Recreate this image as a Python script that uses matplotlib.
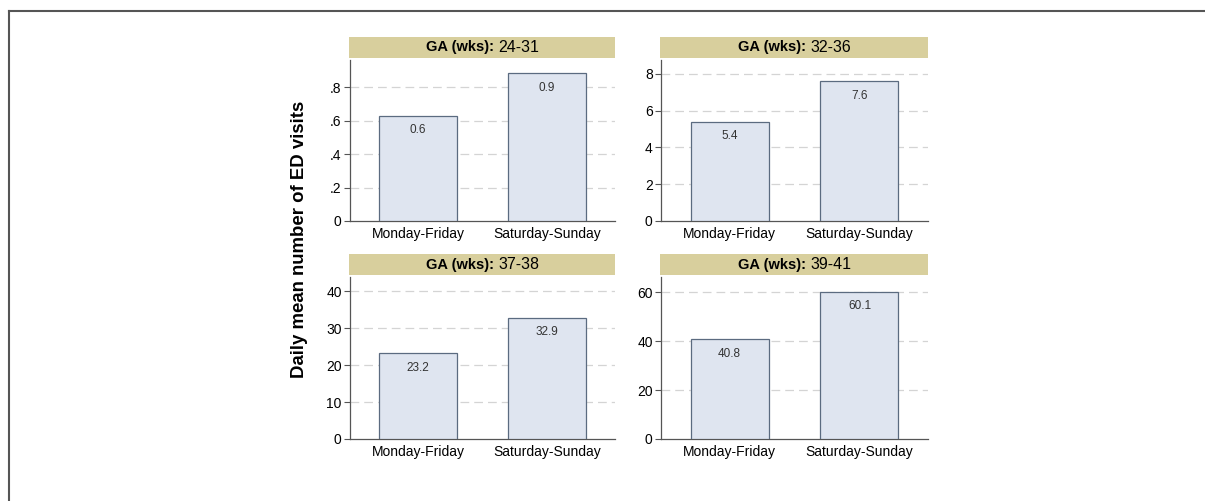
import matplotlib
matplotlib.use("Agg")
from matplotlib import pyplot as plt
from matplotlib.lines import Line2D
from matplotlib.patches import Rectangle

# data
categories = ["Monday-Friday", "Saturday-Sunday"]
groups = ["24-31", "32-36", "37-38", "39-41"]
heights = [[0.63, 0.884], [5.38, 7.6], [23.2, 32.9], [40.8, 60.1]]
bar_labels = [["0.6", "0.9"], ["5.4", "7.6"], ["23.2", "32.9"], ["40.8", "60.1"]]
y_ticks = [[0, 0.2, 0.4, 0.6, 0.8], [0, 2, 4, 6, 8], [0, 10, 20, 30, 40],
           [0, 20, 40, 60]]
y_ticklabels = [["0", ".2", ".4", ".6", ".8"], ["0", "2", "4", "6", "8"],
                ["0", "10", "20", "30", "40"], ["0", "20", "40", "60"]]
y_max = [0.964, 8.76, 43.9, 66.3]

plt.rcParams["font.family"] = ["Liberation Sans", "DejaVu Sans"]

W, H = 1205, 501
fig = plt.figure(figsize=(W / 100, H / 100), dpi=100)

# panel boxes in pixels: left, top, right, bottom
boxes = [(350, 60, 615, 221), (661, 60, 928, 221),
         (350, 277, 615, 439), (661, 277, 928, 439)]

strip_col = "#d8cf9d"
bar_face = "#dfe5f0"
bar_edge = "#5b6b80"
axis_col = "#555555"

titles = []

for i, (l, t, r, b) in enumerate(boxes):
    ax = fig.add_axes([l / W, 1 - b / H, (r - l) / W, (b - t) / H])
    x = [1, 2]
    ax.bar(x, heights[i], width=0.6, color=bar_face, edgecolor=bar_edge,
           linewidth=0.9, zorder=3)
    for xi, h, lab in zip(x, heights[i], bar_labels[i]):
        ax.annotate(lab, (xi, h), xytext=(0, -6), textcoords="offset points",
                    ha="center", va="top", fontsize=8.5, color="#333333",
                    zorder=4)
    ax.set_xlim(0.473, 2.527)
    ax.set_ylim(0, y_max[i])
    ax.set_xticks(x)
    ax.set_xticklabels(categories, fontsize=10)
    ax.tick_params(axis="x", length=0, pad=4)
    ax.set_yticks(y_ticks[i])
    ax.set_yticklabels(y_ticklabels[i], fontsize=10)
    ax.tick_params(axis="y", length=4, color=axis_col, width=0.8, pad=2)
    for tick in y_ticks[i][1:]:
        ax.axhline(tick, color="#d4d4d4", linestyle=(0, (7, 4)),
                   linewidth=0.9, zorder=1)
    for side in ["top", "right"]:
        ax.spines[side].set_visible(False)
    for side in ["left", "bottom"]:
        ax.spines[side].set_color(axis_col)
        ax.spines[side].set_linewidth(0.9)

    # strip header
    fig.add_artist(Rectangle(((l - 1) / W, 1 - (t - 2) / H), (r - l + 1) / W,
                             21 / H, transform=fig.transFigure,
                             facecolor=strip_col, edgecolor="none"))
    cy = 1 - (t - 12.5) / H
    t1 = fig.text(0, cy, "GA (wks):", fontsize=10.5, fontweight="bold",
                  ha="left", va="center")
    t2 = fig.text(0, cy, groups[i], fontsize=11.5, ha="left", va="center")
    titles.append(((l + r) / 2, t1, t2))

# centre each two-part strip title
fig.canvas.draw()
renderer = fig.canvas.get_renderer()
for cx, t1, t2 in titles:
    w1 = t1.get_window_extent(renderer).width
    w2 = t2.get_window_extent(renderer).width
    gap = 5
    start = cx - (w1 + gap + w2) / 2
    t1.set_x(start / W)
    t2.set_x((start + w1 + gap) / W)

fig.text(300 / W, 1 - 239 / H, "Daily mean number of ED visits",
         fontsize=13.4, fontweight="bold", rotation=90, ha="center",
         va="center")

# outer frame lines (top and left)
fig.add_artist(Line2D([8.5 / W, 1], [1 - 10.5 / H, 1 - 10.5 / H],
                      color="#555555", linewidth=1.5))
fig.add_artist(Line2D([8.5 / W, 8.5 / W], [0, 1 - 10.5 / H],
                      color="#555555", linewidth=1.5))

fig.savefig("out.png", dpi=100)
